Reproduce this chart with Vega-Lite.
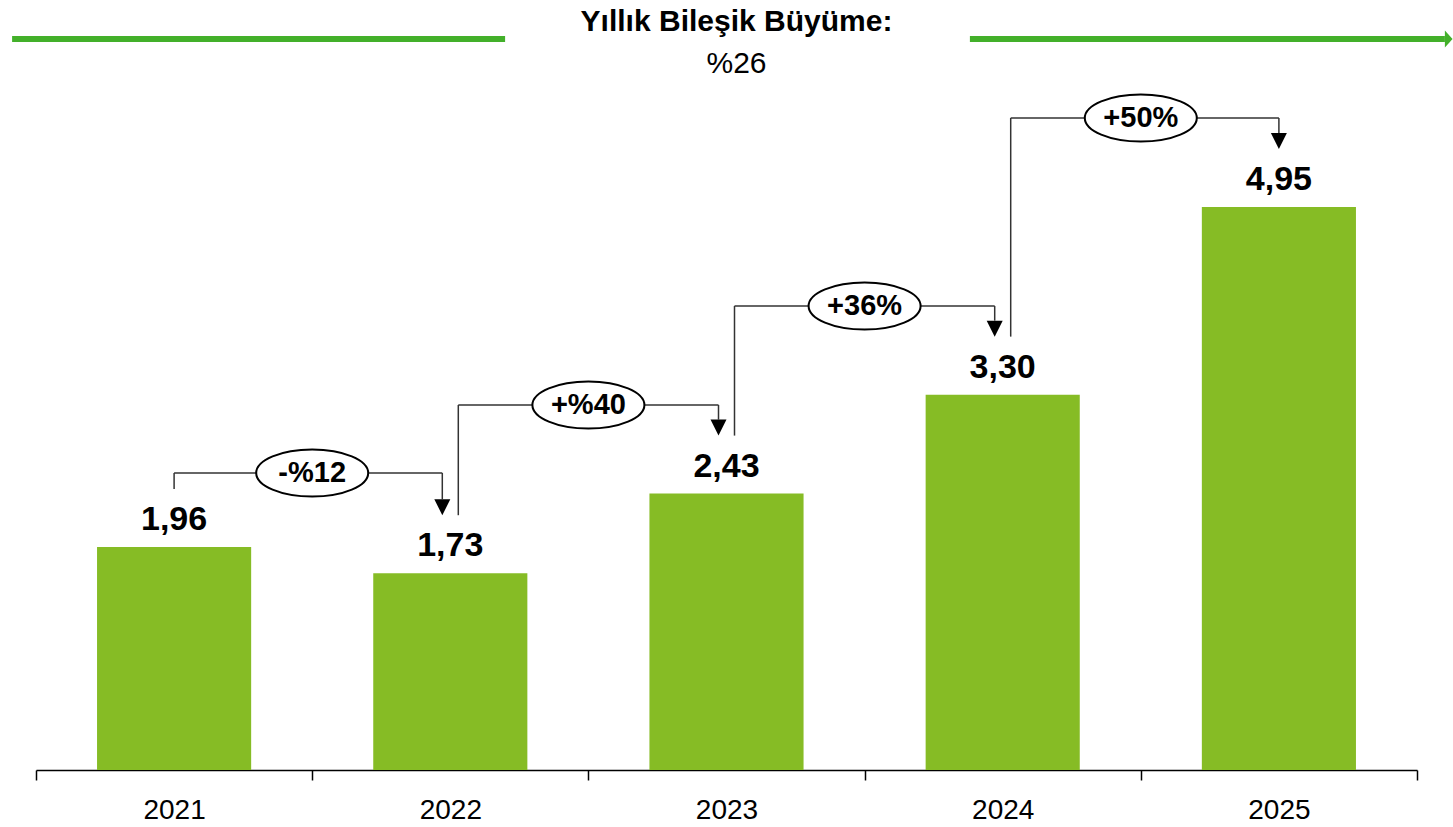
{
  "$schema": "https://vega.github.io/schema/vega-lite/v6.json",
  "width": 1381,
  "height": 685,
  "autosize": {"type": "none"},
  "padding": {"left": 36, "right": 36, "top": 85, "bottom": 57},
  "background": "white",
  "config": {
    "view": {"stroke": null},
    "font": "Liberation Sans",
    "locale": {"number": {"decimal": ",", "thousands": ".", "grouping": [3], "currency": ["", ""]}}
  },
  "title": {
    "text": "Yıllık Bileşik Büyüme:",
    "subtitle": "%26",
    "anchor": "middle",
    "font": "Liberation Sans",
    "fontSize": 30,
    "fontWeight": "bold",
    "color": "#000000",
    "subtitleFont": "Liberation Sans",
    "subtitleFontSize": 30,
    "subtitleColor": "#000000",
    "subtitlePadding": 12,
    "offset": -48,
    "dx": 10
  },
  "datasets": {
    "bars": [
      {"year": "2021", "value": 1.96},
      {"year": "2022", "value": 1.73},
      {"year": "2023", "value": 2.43},
      {"year": "2024", "value": 3.30},
      {"year": "2025", "value": 4.95}
    ],
    "steps": [
      {"from": "2021", "to": "2022", "fromValue": 1.96, "toValue": 1.73, "level": 2.611, "label": "-%12"},
      {"from": "2022", "to": "2023", "fromValue": 1.73, "toValue": 2.43, "level": 3.209, "label": "+%40"},
      {"from": "2023", "to": "2024", "fromValue": 2.43, "toValue": 3.30, "level": 4.079, "label": "+36%"},
      {"from": "2024", "to": "2025", "fromValue": 3.30, "toValue": 4.95, "level": 5.732, "label": "+50%"}
    ],
    "cagr": [
      {"from": "2021", "to": "2025", "level": 6.426}
    ]
  },
  "layer": [
    {
      "data": {"name": "bars"},
      "mark": {"type": "bar", "color": "#86BC25", "width": {"band": 0.558}},
      "encoding": {
        "x": {
          "field": "year", "type": "nominal",
          "scale": {"paddingInner": 0, "paddingOuter": 0},
          "axis": {
            "title": null, "labelAngle": 0, "tickBand": "extent", "grid": false,
            "labelFontSize": 28, "labelColor": "#000000", "labelFont": "Liberation Sans",
            "domainColor": "#000000", "domainWidth": 1.5,
            "tickColor": "#000000", "tickWidth": 1.5, "tickSize": 10,
            "labelPadding": 16
          }
        },
        "y": {"field": "value", "type": "quantitative", "scale": {"domain": [0, 6.022], "nice": false, "zero": true}, "axis": null}
      }
    },
    {
      "data": {"name": "bars"},
      "mark": {"type": "text", "baseline": "alphabetic", "dy": -17, "fontSize": 34, "fontWeight": "bold", "color": "#000000"},
      "encoding": {
        "x": {"field": "year", "type": "nominal"},
        "y": {"field": "value", "type": "quantitative", "axis": null},
        "text": {"field": "value", "type": "quantitative", "format": ".2f"}
      }
    },
    {
      "data": {"name": "steps"},
      "transform": [{"filter": "datum.from === '2021'"}],
      "mark": {"type": "rule", "color": "#333333", "strokeWidth": 1.5, "yOffset": -58},
      "encoding": {
        "x": {"field": "from", "type": "nominal"},
        "y": {"field": "fromValue", "type": "quantitative", "axis": null},
        "y2": {"field": "level"}
      }
    },
    {
      "data": {"name": "steps"},
      "transform": [{"filter": "datum.from !== '2021'"}],
      "mark": {"type": "rule", "color": "#333333", "strokeWidth": 1.5, "xOffset": 8, "yOffset": -58},
      "encoding": {
        "x": {"field": "from", "type": "nominal"},
        "y": {"field": "fromValue", "type": "quantitative", "axis": null},
        "y2": {"field": "level"}
      }
    },
    {
      "data": {"name": "steps"},
      "transform": [{"filter": "datum.from === '2021'"}],
      "mark": {"type": "rule", "color": "#333333", "strokeWidth": 1.5, "x2Offset": -8},
      "encoding": {
        "x": {"field": "from", "type": "nominal"},
        "x2": {"field": "to"},
        "y": {"field": "level", "type": "quantitative", "axis": null}
      }
    },
    {
      "data": {"name": "steps"},
      "transform": [{"filter": "datum.from !== '2021' && datum.to !== '2025'"}],
      "mark": {"type": "rule", "color": "#333333", "strokeWidth": 1.5, "xOffset": 8, "x2Offset": -8},
      "encoding": {
        "x": {"field": "from", "type": "nominal"},
        "x2": {"field": "to"},
        "y": {"field": "level", "type": "quantitative", "axis": null}
      }
    },
    {
      "data": {"name": "steps"},
      "transform": [{"filter": "datum.to === '2025'"}],
      "mark": {"type": "rule", "color": "#333333", "strokeWidth": 1.5, "xOffset": 8},
      "encoding": {
        "x": {"field": "from", "type": "nominal"},
        "x2": {"field": "to"},
        "y": {"field": "level", "type": "quantitative", "axis": null}
      }
    },
    {
      "data": {"name": "steps"},
      "transform": [{"filter": "datum.to !== '2025'"}],
      "mark": {"type": "rule", "color": "#333333", "strokeWidth": 1.5, "xOffset": -8, "y2Offset": -74},
      "encoding": {
        "x": {"field": "to", "type": "nominal"},
        "y": {"field": "level", "type": "quantitative", "axis": null},
        "y2": {"field": "toValue"}
      }
    },
    {
      "data": {"name": "steps"},
      "transform": [{"filter": "datum.to === '2025'"}],
      "mark": {"type": "rule", "color": "#333333", "strokeWidth": 1.5, "y2Offset": -74},
      "encoding": {
        "x": {"field": "to", "type": "nominal"},
        "y": {"field": "level", "type": "quantitative", "axis": null},
        "y2": {"field": "toValue"}
      }
    },
    {
      "data": {"name": "steps"},
      "transform": [{"filter": "datum.to !== '2025'"}],
      "mark": {"type": "point", "shape": "M -1 -2 L 1 -2 L 0 0 Z", "size": 256, "filled": true, "color": "#000000", "opacity": 1, "xOffset": -8, "yOffset": -58},
      "encoding": {
        "x": {"field": "to", "type": "nominal"},
        "y": {"field": "toValue", "type": "quantitative", "axis": null}
      }
    },
    {
      "data": {"name": "steps"},
      "transform": [{"filter": "datum.to === '2025'"}],
      "mark": {"type": "point", "shape": "M -1 -2 L 1 -2 L 0 0 Z", "size": 256, "filled": true, "color": "#000000", "opacity": 1, "yOffset": -58},
      "encoding": {
        "x": {"field": "to", "type": "nominal"},
        "y": {"field": "toValue", "type": "quantitative", "axis": null}
      }
    },
    {
      "data": {"name": "steps"},
      "mark": {"type": "point", "shape": "M -1 0 A 1 0.42 0 1 1 1 0 A 1 0.42 0 1 1 -1 0 Z", "size": 12544, "filled": true, "fill": "#ffffff", "stroke": "#000000", "strokeWidth": 2, "opacity": 1},
      "encoding": {
        "x": {"field": "from", "type": "nominal", "bandPosition": 1},
        "y": {"field": "level", "type": "quantitative", "axis": null}
      }
    },
    {
      "data": {"name": "steps"},
      "mark": {"type": "text", "baseline": "middle", "fontSize": 29, "fontWeight": "bold", "color": "#000000"},
      "encoding": {
        "x": {"field": "from", "type": "nominal", "bandPosition": 1},
        "y": {"field": "level", "type": "quantitative", "axis": null},
        "text": {"field": "label"}
      }
    },
    {
      "data": {"name": "cagr"},
      "mark": {"type": "rule", "color": "#43B02A", "strokeWidth": 6, "xOffset": -162, "x2Offset": 331},
      "encoding": {
        "x": {"field": "from", "type": "nominal"},
        "x2": {"field": "from"},
        "y": {"field": "level", "type": "quantitative", "axis": null}
      }
    },
    {
      "data": {"name": "cagr"},
      "mark": {"type": "rule", "color": "#43B02A", "strokeWidth": 6, "xOffset": -309, "x2Offset": 166},
      "encoding": {
        "x": {"field": "to", "type": "nominal"},
        "x2": {"field": "to"},
        "y": {"field": "level", "type": "quantitative", "axis": null}
      }
    },
    {
      "data": {"name": "cagr"},
      "mark": {"type": "point", "shape": "M 0 -1 L 0.9 0 L 0 1 Z", "size": 289, "filled": true, "color": "#43B02A", "opacity": 1, "xOffset": 166},
      "encoding": {
        "x": {"field": "to", "type": "nominal"},
        "y": {"field": "level", "type": "quantitative", "axis": null}
      }
    }
  ]
}
